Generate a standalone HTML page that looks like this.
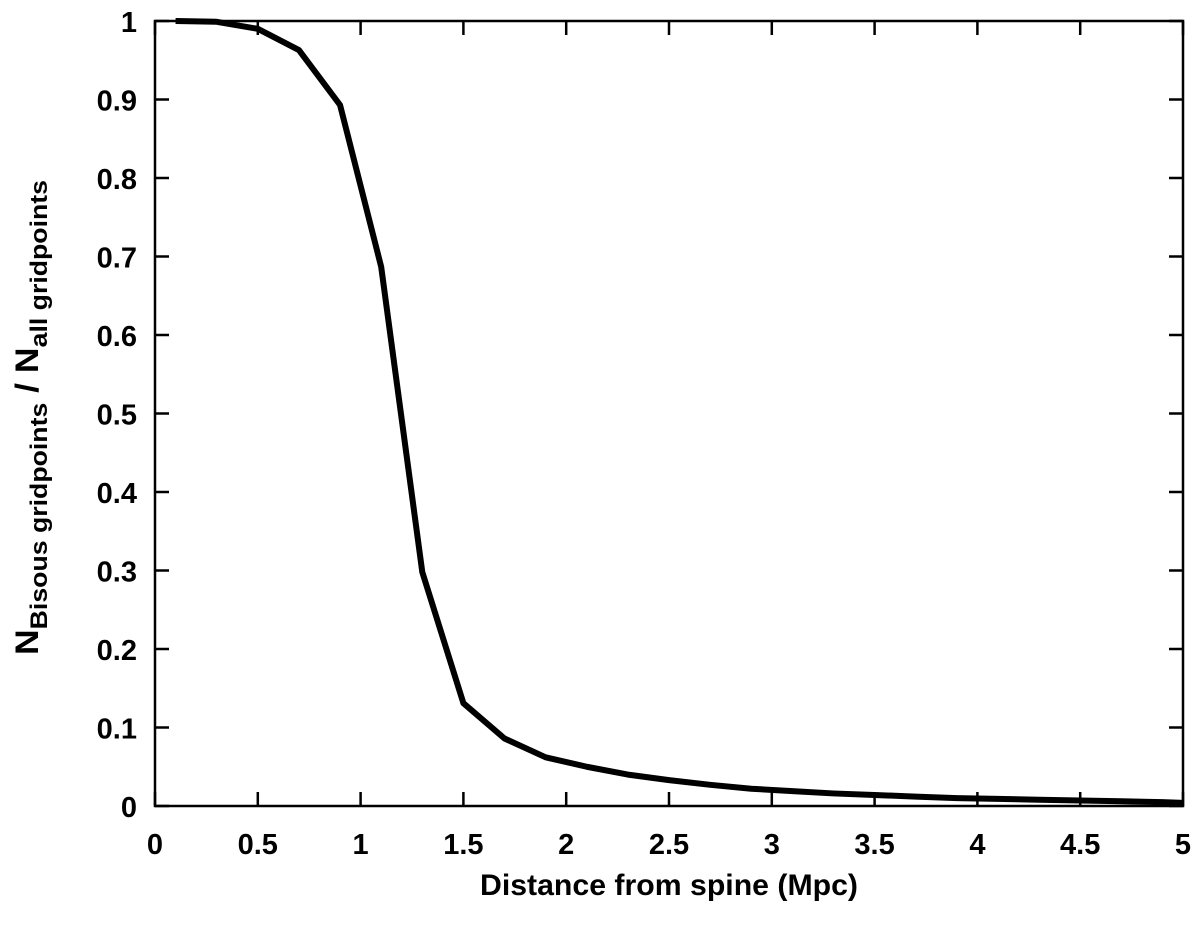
<!DOCTYPE html>
<html><head><meta charset="utf-8"><style>
body{margin:0;background:#fff}
svg text{font-family:"Liberation Sans",sans-serif;font-weight:bold;fill:#000}
</style></head><body>
<svg width="1200" height="924" xmlns="http://www.w3.org/2000/svg">
<g id="ticks"></g>
<rect x="155" y="21" width="1028" height="785" fill="none" stroke="#000" stroke-width="2.5"/>
<path id="curve" fill="none" stroke="#000" stroke-width="6" stroke-linejoin="round"/>
<text x="669" y="895" font-size="30" text-anchor="middle" textLength="378" lengthAdjust="spacingAndGlyphs">Distance from spine (Mpc)</text>
<text transform="translate(38,655) rotate(-90)" font-size="32" textLength="475" lengthAdjust="spacingAndGlyphs">N<tspan font-size="24" dy="9">Bisous gridpoints</tspan><tspan dy="-9"> / N</tspan><tspan font-size="24" dy="9">all gridpoints</tspan></text>
</svg>
<script>
const xs=[0.1,0.3,0.5,0.7,0.9,1.1,1.3,1.5,1.7,1.9,2.1,2.3,2.5,2.7,2.9,3.1,3.3,3.5,3.7,3.9,4.1,4.3,4.5,4.7,4.9,5.0];
const ys=[1.0,0.999,0.990,0.963,0.893,0.687,0.298,0.131,0.086,0.062,0.050,0.040,0.033,0.027,0.022,0.019,0.016,0.014,0.012,0.010,0.009,0.008,0.007,0.006,0.005,0.004];
const xTicks=["0","0.5","1","1.5","2","2.5","3","3.5","4","4.5","5"];
const yTicks=["0","0.1","0.2","0.3","0.4","0.5","0.6","0.7","0.8","0.9","1"];
const X=v=>155+v*(1028/5), Y=v=>806-v*785;
const NS="http://www.w3.org/2000/svg", g=document.getElementById('ticks');
function mk(t,a){const e=document.createElementNS(NS,t);for(const k in a)e.setAttribute(k,a[k]);g.appendChild(e);return e;}
xTicks.forEach(t=>{const x=X(+t);
 const l=mk('path',{d:`M${x},806v-14M${x},21v14`,stroke:'#000','stroke-width':2.5});
 
 
 const s=mk('text',{x:x,y:854,'font-size':29,'text-anchor':'middle'});s.textContent=t;
 
 });
yTicks.forEach(t=>{const y=Y(+t);
 const l=mk('path',{d:`M155,${y}h14M1183,${y}h-14`,stroke:'#000','stroke-width':2.5});
 
 
 const s=mk('text',{x:137,y:y+11,'font-size':29,'text-anchor':'end'});s.textContent=t;
 
 });
document.getElementById('curve').setAttribute('d',xs.map((x,i)=>(i?'L':'M')+X(x)+','+Y(ys[i])).join(''));
</script>
</body></html>
